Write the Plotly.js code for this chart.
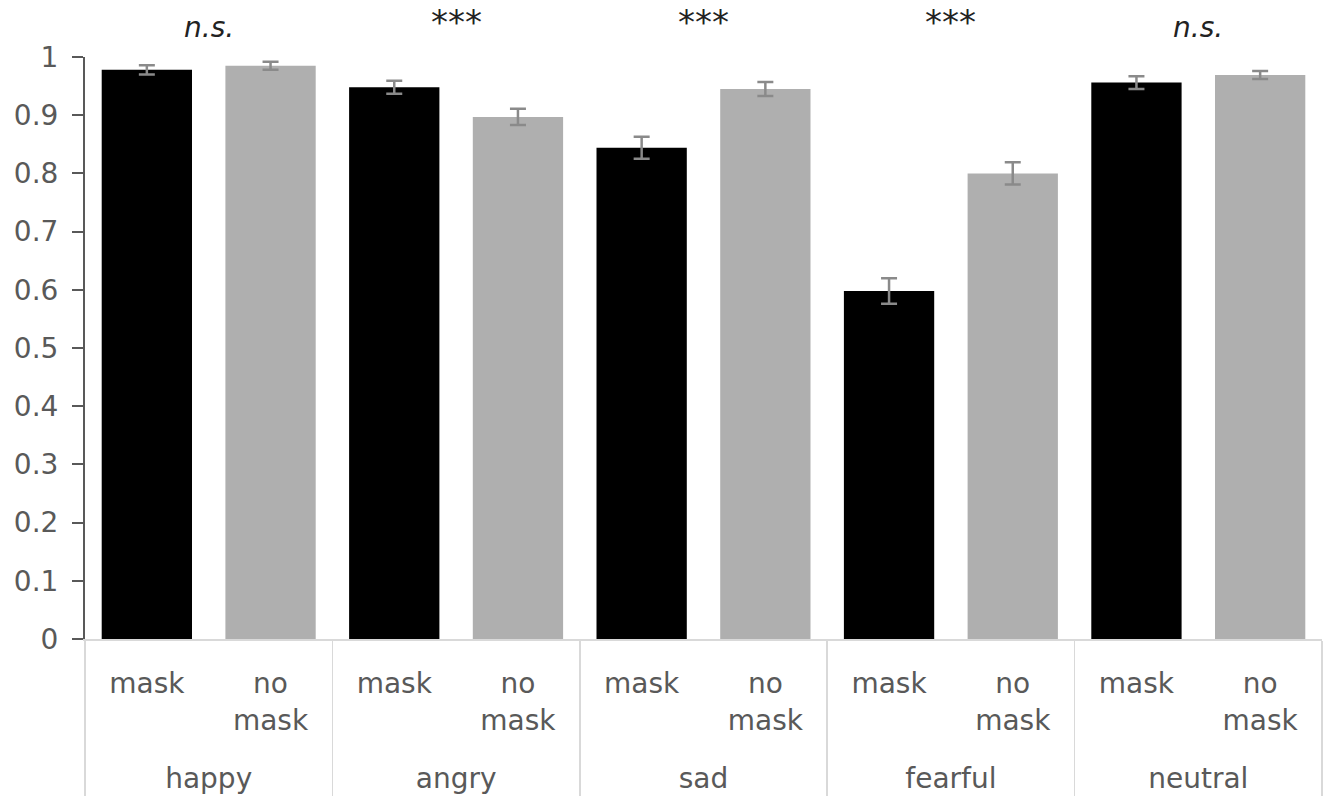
<!DOCTYPE html>
<html>
<head>
<meta charset="utf-8">
<script src="https://cdn.plot.ly/plotly-3.0.1.min.js"></script>
<style>html,body{margin:0;padding:0;background:#fff;}#chart{width:1323px;height:803px;}</style>
</head>
<body>
<div id="chart"></div>
<script>
const emotions = ['happy', 'angry', 'sad', 'fearful', 'neutral'];
const conditions = ['mask', 'no<br>mask<br><span style="font-size:56px"> </span>'];
const maskValues = [0.978, 0.948, 0.844, 0.598, 0.956];
const maskErrors = [0.008, 0.011, 0.019, 0.022, 0.011];
const noMaskValues = [0.985, 0.897, 0.945, 0.800, 0.969];
const noMaskErrors = [0.007, 0.014, 0.012, 0.019, 0.007];
const sigLabels = ['n.s.', '***', '***', '***', 'n.s.'];
const yTicks = [0, 0.1, 0.2, 0.3, 0.4, 0.5, 0.6, 0.7, 0.8, 0.9, 1];
const yTickText = ['0', '0.1', '0.2', '0.3', '0.4', '0.5', '0.6', '0.7', '0.8', '0.9', '1'];

const outer = [], inner = [], vals = [], errs = [], cols = [];
emotions.forEach((e, i) => {
  outer.push(e, e);
  inner.push(conditions[0], conditions[1]);
  vals.push(maskValues[i], noMaskValues[i]);
  errs.push(maskErrors[i], noMaskErrors[i]);
  cols.push('#000000', '#afafaf');
});

const trace = {
  type: 'bar',
  x: [outer, inner],
  y: vals,
  marker: {color: cols, line: {width: 0}},
  error_y: {type: 'data', array: errs, visible: true, color: '#8a8a8a', thickness: 2.5, width: 8},
  showlegend: false,
  hoverinfo: 'y'
};

const tickFont = {family: 'DejaVu Sans, sans-serif', size: 28, color: '#595959'};

const annotations = sigLabels.map((s, i) => ({
  x: 2 * i + 0.5, xref: 'x', y: s === 'n.s.' ? 1.05 : 1.06, yref: 'paper',
  text: s === 'n.s.' ? '<i>' + s + '</i>' : s,
  showarrow: false, xanchor: 'center', yanchor: 'middle',
  font: {family: 'DejaVu Sans, sans-serif', size: s === 'n.s.' ? 28 : 34, color: '#222222'}
}));

const layout = {
  width: 1323, height: 803,
  margin: {l: 85, r: 1, t: 57, b: 164},
  paper_bgcolor: '#ffffff', plot_bgcolor: '#ffffff',
  bargap: 0.27,
  xaxis: {
    type: 'multicategory',
    showline: true, linecolor: '#d9d9d9', linewidth: 1.5,
    showgrid: false, zeroline: false,
    ticks: '', tickfont: tickFont, ticklabelstandoff: 19,
    showdividers: true, dividercolor: '#d9d9d9', dividerwidth: 1.5,
    range: [-0.5, 9.5]
  },
  yaxis: {
    range: [0, 1], tickvals: yTicks, ticktext: yTickText,
    showline: true, linecolor: '#595959', linewidth: 2,
    ticks: 'outside', ticklen: 11, tickwidth: 2, tickcolor: '#595959',
    showgrid: false, zeroline: false,
    tickfont: tickFont, ticklabelstandoff: 8
  },
  annotations: annotations
};

Plotly.newPlot('chart', [trace], layout, {displayModeBar: false, staticPlot: true});
</script>
</body>
</html>
